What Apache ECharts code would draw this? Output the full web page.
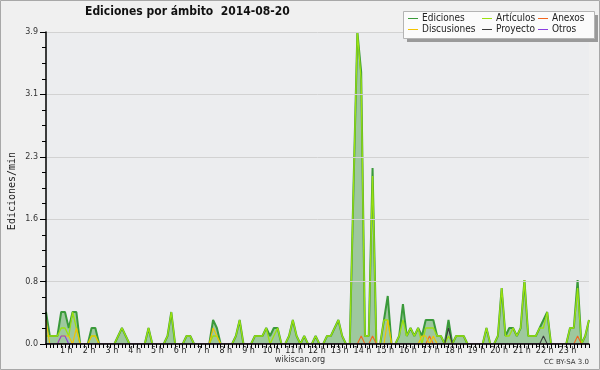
<!DOCTYPE html>
<html>
<head>
<meta charset="utf-8">
<script src="https://cdn.jsdelivr.net/npm/echarts@6/dist/echarts.min.js"></script>
<style>
html,body{margin:0;padding:0;background:#f0f0f0;}
#chart{width:600px;height:370px;}
</style>
</head>
<body>
<div id="chart"></div>
<script>
// hour tick labels (one every 6 ten-minute slots)
const hourLabels = ['1 h','2 h','3 h','4 h','5 h','6 h','7 h','8 h','9 h','10 h','11 h','12 h',
  '13 h','14 h','15 h','16 h','17 h','18 h','19 h','20 h','21 h','22 h','23 h'];

// edits per minute, 10-minute bins (144 values)
const ediciones = [
 0.4,0.1,0.1,0.1,0.4,0.4,0.2,0.4,0.4,0,
 0,0,0.2,0.2,0,0,0,0,0,0.1,
 0.2,0.1,0,0,0,0,0,0.2,0,0,
 0,0,0.1,0.4,0,0,0,0.1,0.1,0,
 0,0,0,0,0.3,0.2,0,0,0,0,
 0.1,0.3,0,0,0,0.1,0.1,0.1,0.2,0.1,
 0.2,0.2,0,0,0.1,0.3,0.1,0,0.1,0,
 0,0.1,0,0,0.1,0.1,0.2,0.3,0.1,0,
 0,2.0,3.9,3.4,0.1,0.1,2.2,0,0,0.3,
 0.6,0,0,0.1,0.5,0.1,0.2,0.1,0.2,0.1,
 0.3,0.3,0.3,0.1,0.1,0,0.3,0,0.1,0.1,
 0.1,0,0,0,0,0,0.2,0,0,0.1,
 0.7,0.1,0.2,0.2,0.1,0.2,0.8,0.1,0.1,0.1,
 0.2,0.3,0.4,0,0,0,0,0,0.2,0.2,
 0.8,0,0.1,0.3];

const articulos = [
 0.1,0.1,0.1,0.1,0.2,0.2,0.1,0.4,0.2,0,
 0,0,0.1,0.1,0,0,0,0,0,0.1,
 0.2,0.1,0,0,0,0,0,0.2,0,0,
 0,0,0.1,0.4,0,0,0,0.1,0.1,0,
 0,0,0,0,0.1,0.1,0,0,0,0,
 0.1,0.3,0,0,0,0.1,0.1,0.1,0.2,0,
 0.1,0.2,0,0,0.1,0.3,0.1,0,0.1,0,
 0,0.1,0,0,0.1,0.1,0.2,0.3,0.1,0,
 0,2.0,3.9,3.3,0.1,0.1,2.1,0,0,0.3,
 0.3,0,0,0.1,0.3,0.1,0.2,0.1,0.2,0,
 0.2,0.2,0.2,0.1,0.1,0,0.1,0,0.1,0.1,
 0.1,0,0,0,0,0,0.2,0,0,0.1,
 0.7,0.1,0.1,0.2,0.1,0.2,0.8,0.1,0.1,0.1,
 0.2,0.2,0.4,0,0,0,0,0,0.2,0.2,
 0.7,0,0.1,0.3];

const anexos = [
 0,0,0,0,0,0,0,0,0,0, 0,0,0,0,0,0,0,0,0,0, 0,0,0,0,0,0,0,0,0,0,
 0,0,0,0,0,0,0,0,0,0, 0,0,0,0,0,0,0,0,0,0, 0,0,0,0,0,0,0,0,0,0,
 0,0,0,0,0,0,0,0,0,0, 0,0,0,0,0,0,0,0,0,0,
 0,0,0,0.1,0,0,0.1,0,0,0,
 0,0,0,0,0,0,0,0,0,0,
 0,0.1,0,0,0,0,0,0,0,0,
 0,0,0,0,0,0,0,0,0,0, 0,0,0,0,0,0,0,0,0,0, 0,0,0,0,0,0,0,0,0,0,
 0.1,0,0,0];

const discusiones = [
 0.3,0,0,0,0.1,0.1,0.1,0,0.2,0,
 0,0,0.1,0.1,0,0,0,0,0,0,
 0,0,0,0,0,0,0,0,0,0, 0,0,0,0,0,0,0,0,0,0,
 0,0,0,0,0.2,0.1,0,0,0,0,
 0,0,0,0,0,0,0,0,0,0, 0,0,0,0,0,0,0,0,0,0, 0,0,0,0,0,0,0,0,0,0,
 0,0,0,0,0,0,0,0,0,0,
 0.3,0,0,0,0,0,0,0,0,0.1,
 0.1,0,0.1,0,0,0,0,0,0,0,
 0,0,0,0,0,0,0,0,0,0, 0,0,0,0,0,0,0,0,0,0, 0,0,0,0,0,0,0,0,0,0,
 0,0,0,0];

const proyecto = [
 0,0,0,0,0,0,0,0,0,0, 0,0,0,0,0,0,0,0,0,0, 0,0,0,0,0,0,0,0,0,0,
 0,0,0,0,0,0,0,0,0,0, 0,0,0,0,0,0,0,0,0,0, 0,0,0,0,0,0,0,0,0,0,
 0,0,0,0,0,0,0,0,0,0, 0,0,0,0,0,0,0,0,0,0, 0,0,0,0,0,0,0,0,0,0,
 0,0,0,0,0,0,0,0,0,0,
 0,0,0,0,0,0,0.2,0,0,0,
 0,0,0,0,0,0,0,0,0,0, 0,0,0,0,0,0,0,0,0,0,
 0,0.1,0,0,0,0,0,0,0,0,
 0,0,0,0];

const otros = [
 0,0,0,0,0.1,0.1,0,0,0,0, 0,0,0,0,0,0,0,0,0,0, 0,0,0,0,0,0,0,0,0,0,
 0,0,0,0,0,0,0,0,0,0, 0,0,0,0,0,0,0,0,0,0, 0,0,0,0,0,0,0,0,0,0,
 0,0,0,0,0,0,0,0,0,0, 0,0,0,0,0,0,0,0,0,0, 0,0,0,0,0,0,0,0,0,0,
 0,0,0,0,0,0,0,0,0,0, 0,0,0,0,0,0,0,0,0,0, 0,0,0,0,0,0,0,0,0,0,
 0,0,0,0,0,0,0,0,0,0, 0,0,0,0,0,0,0,0,0,0,
 0,0,0,0];

// category slots (10-minute steps)
const slots = [];
for (let h = 0; h < 24; h++) for (let m = 0; m < 60; m += 10)
  slots.push(String(h).padStart(2,'0') + ':' + String(m).padStart(2,'0'));

const colors = {
  ediciones:'#3a9a3a', articulos:'#9be10f', anexos:'#f2661e',
  discusiones:'#f3c300', proyecto:'#3c3c3c', otros:'#8a3fe0'
};
const legendFont = 'DejaVu Sans Condensed, DejaVu Sans, sans-serif';

function lineSeries(name, data, color, width, extra) {
  return Object.assign({
    name: name, type: 'line', data: data, symbol: 'none', smooth: false,
    lineStyle: {color: color, width: width},
    itemStyle: {color: color},
    emphasis: {disabled: true}
  }, extra || {});
}

function legendCol(names, left) {
  return {
    data: names, orient: 'vertical', left: left, top: 13, padding: 0,
    itemWidth: 10, itemHeight: 1, itemGap: 0, icon: 'rect',
    selectedMode: false, z: 12,
    textStyle: {fontFamily: legendFont, fontSize: 10, color: '#222', lineHeight: 11, padding: [0,0,0,-1]}
  };
}

const chart = echarts.init(document.getElementById('chart'), null, {renderer: 'canvas'});
chart.setOption({
  animation: false,
  backgroundColor: '#f0f0f0',
  title: {
    text: 'Ediciones por ámbito  2014-08-20',
    left: 85, top: 6, padding: 0,
    textStyle: {fontFamily: 'DejaVu Sans Condensed, DejaVu Sans, sans-serif', fontWeight: 'bold', fontSize: 12, color: '#111'}
  },
  legend: [
    legendCol(['Ediciones','Discusiones'], 408),
    legendCol(['Artículos','Proyecto'], 482),
    legendCol(['Anexos','Otros'], 538)
  ],
  grid: {left: 46, right: 11, top: 32, bottom: 26, show: true, backgroundColor: '#ecedef', borderWidth: 0},
  xAxis: {
    type: 'category', data: slots, boundaryGap: false, z: 10,
    axisLine: {lineStyle: {color: '#000', width: 1.5}},
    axisTick: {show: true, interval: 0, length: 4, lineStyle: {color: '#000', width: 1}},
    axisLabel: {
      interval: function (i) { return i > 0 && i % 6 === 0; },
      formatter: function (v, i) { return hourLabels[i / 6 - 1] || ''; },
      margin: 3, fontSize: 8, fontFamily: 'DejaVu Sans, sans-serif', color: '#222',
      padding: [0, 5, 0, 0]
    },
    splitLine: {show: false}
  },
  yAxis: {
    type: 'value', min: 0, max: 3.9, interval: 0.78, z: 10,
    axisLine: {show: true, lineStyle: {color: '#000', width: 1.5}},
    axisTick: {show: true, length: 6, lineStyle: {color: '#000'}},
    minorTick: {show: true, splitNumber: 4, length: 4, lineStyle: {color: '#000'}},
    axisLabel: {
      formatter: function (v) { return v.toFixed(1); },
      margin: 8, fontSize: 8, fontFamily: 'DejaVu Sans, sans-serif', color: '#333'
    },
    splitLine: {show: true, lineStyle: {color: '#d2d2d2', width: 1}}
  },
  series: [
    lineSeries('Ediciones', ediciones, colors.ediciones, 2, {areaStyle: {color: '#9ec89e', opacity: 1}, z: 2}),
    lineSeries('Artículos', articulos, colors.articulos, 1.3, {z: 3}),
    lineSeries('Anexos', anexos, colors.anexos, 1.1, {z: 4}),
    lineSeries('Discusiones', discusiones, colors.discusiones, 1.1, {z: 4}),
    lineSeries('Proyecto', proyecto, colors.proyecto, 1.1, {z: 4}),
    lineSeries('Otros', otros, colors.otros, 1.1, {z: 4})
  ],
  graphic: [
    {type: 'rect', z: 0, silent: true, shape: {x: 0.5, y: 0.5, width: 599, height: 369},
     style: {fill: null, stroke: '#a8a8a8', lineWidth: 1}},
    {type: 'rect', z: 10, silent: true, shape: {x: 407, y: 15, width: 191, height: 27},
     style: {fill: '#9a9a9a'}},
    {type: 'rect', z: 11, silent: true, shape: {x: 403.5, y: 11.5, width: 191, height: 27},
     style: {fill: '#fbfbfb', stroke: '#b4b4b4', lineWidth: 1}},
    {type: 'text', z: 5, silent: true, x: 12, y: 191, rotation: Math.PI / 2,
     style: {text: 'Ediciones/min', font: '10px "DejaVu Sans Mono", monospace', fill: '#222', align: 'center', verticalAlign: 'middle'}},
    {type: 'text', z: 5, silent: true, x: 300, y: 360,
     style: {text: 'wikiscan.org', font: '9px "DejaVu Sans Condensed", "DejaVu Sans", sans-serif', fill: '#333', align: 'center', verticalAlign: 'middle'}},
    {type: 'text', z: 5, silent: true, x: 589, y: 362,
     style: {text: 'CC BY-SA 3.0', font: '7px "DejaVu Sans", sans-serif', fill: '#333', align: 'right', verticalAlign: 'middle'}}
  ]
});
</script>
</body>
</html>
